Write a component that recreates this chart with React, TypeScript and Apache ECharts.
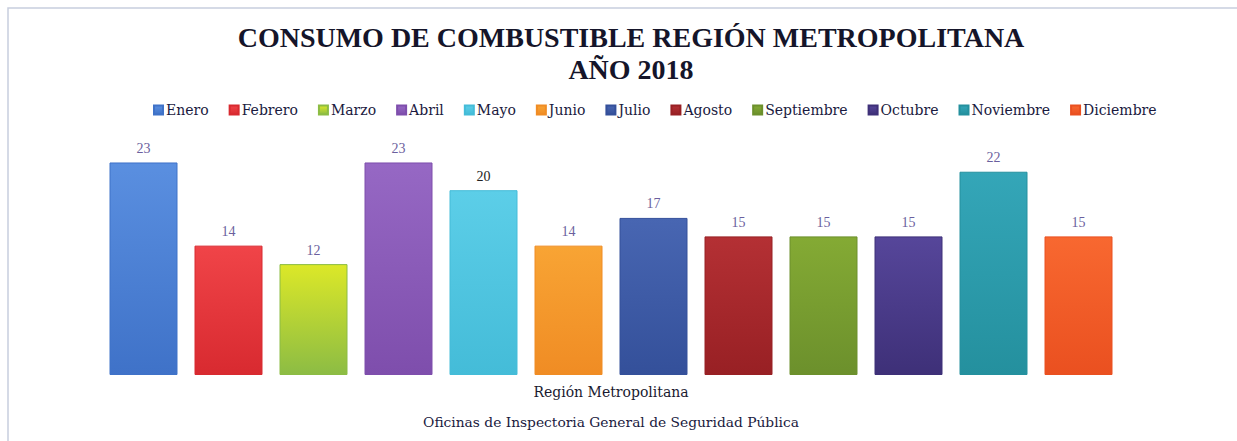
import React, { useEffect, useRef } from "react";
import * as echarts from "echarts";

const months = ["Enero", "Febrero", "Marzo", "Abril", "Mayo", "Junio", "Julio", "Agosto", "Septiembre", "Octubre", "Noviembre", "Diciembre"];
const values = [23, 14, 12, 23, 20, 14, 17, 15, 15, 15, 22, 15];
const category = ["Región Metropolitana"];
const topColors = ["#5a8fe0", "#f04448", "#dce828", "#9668c4", "#5ccee8", "#f8a434", "#4866b2", "#b43034", "#84aa34", "#56469a", "#34a6b8", "#f86830"];
const bottomColors = ["#3f72c8", "#d82a30", "#8cbc44", "#7e4eac", "#44bcd8", "#f08c24", "#34509a", "#982024", "#6c902c", "#3e3078", "#24909e", "#ea5020"];
const labelColors = ["#6b5f9e", "#6b5f9e", "#6b5f9e", "#6b5f9e", "#222222", "#6b5f9e", "#6b5f9e", "#6b5f9e", "#6b5f9e", "#6b5f9e", "#6b5f9e", "#6b5f9e"];

const FONT = "'Liberation Serif', 'DejaVu Serif', serif";
const WIDE = "'DejaVu Serif', serif";

export default function App() {
  const ref = useRef<HTMLDivElement>(null);
  useEffect(() => {
    document.body.style.margin = "0";
    const chart = echarts.init(ref.current!, null, { renderer: "svg" });
    chart.setOption({
      animation: false,
      backgroundColor: "#ffffff",
      title: {
        text: "CONSUMO DE COMBUSTIBLE REGIÓN METROPOLITANA\nAÑO 2018",
        left: 626,
        textAlign: "center",
        top: 16,
        textStyle: { fontFamily: FONT, fontSize: 28, fontWeight: "bold", color: "#15152a", lineHeight: 32 },
      },
      legend: {
        data: months,
        left: 148,
        top: 98,
        itemWidth: 9,
        itemHeight: 9,
        itemGap: 20,
        icon: "rect",
        textStyle: { fontFamily: WIDE, fontSize: 14, color: "#1a1a40", padding: [0, 0, 0, -2] },
      },
      graphic: [
        {
          type: "rect",
          shape: { x: 8, y: 8, width: 1240, height: 445 },
          style: { fill: "none", stroke: "#c8cede", lineWidth: 1.5 },
          silent: true,
        },
      ],
      grid: { left: 60, right: 75, top: 144, bottom: 66 },
      xAxis: {
        type: "category",
        data: category,
        axisLine: { show: false },
        axisTick: { show: false },
        axisLabel: { fontFamily: WIDE, fontSize: 14, color: "#1a1a30", margin: 10 },
        name: "Oficinas de Inspectoria General de Seguridad Pública",
        nameLocation: "middle",
        nameGap: 40,
        nameTextStyle: { fontFamily: WIDE, fontSize: 13.8, color: "#1a1a40" },
      },
      yAxis: {
        type: "value",
        min: 0,
        max: 25,
        show: false,
        splitLine: { show: false },
      },
      series: months.map((m, i) => ({
        name: m,
        type: "bar",
        data: [values[i]],
        barWidth: 68,
        barGap: "25%",
        itemStyle: {
          color: new echarts.graphic.LinearGradient(0, 0, 0, 1, [
            { offset: 0, color: topColors[i] },
            { offset: 1, color: bottomColors[i] },
          ]),
          borderColor: bottomColors[i],
          borderWidth: 1,
        },
        label: {
          show: true,
          position: "top",
          distance: 7,
          fontFamily: FONT,
          fontSize: 14,
          color: labelColors[i],
        },
      })),
    });
    return () => chart.dispose();
  }, []);
  return <div ref={ref} style={{ width: 1237, height: 441 }} />;
}
